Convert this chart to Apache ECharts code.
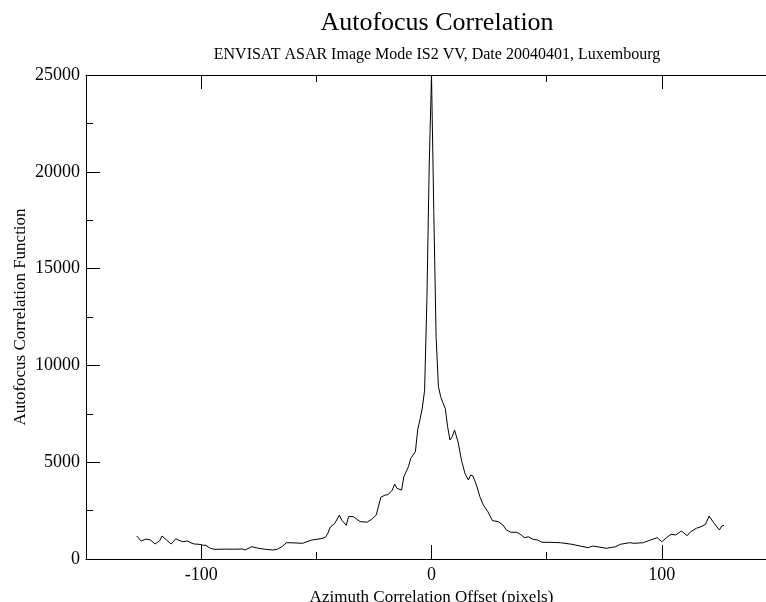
<!DOCTYPE html>
<html>
<head>
<meta charset="utf-8">
<script src="https://cdn.jsdelivr.net/npm/echarts@6/dist/echarts.min.js"></script>
<style>
  html, body { margin: 0; padding: 0; background: #fff; }
  #chart { width: 766px; height: 602px; }
</style>
</head>
<body>
<div id="chart"></div>
<script>
// 方位向偏移 (pixels)
const offsets = [
  -128, -126, -124, -122, -120, -118, -117, -115, -113, -111, -110, -108, -106, -104, -103, -101,
  -99, -98, -96, -94, -90, -86, -82, -81, -78, -75, -72, -69, -67, -65, -63, -61,
  -56, -52, -48, -46, -45, -44, -42, -40, -39, -37, -36, -34, -31, -28, -26, -24,
  -22, -20, -19, -17, -16, -15, -13, -12, -10, -9, -7, -6, -5, -4, -3, -2, -1, 0,
  1, 2, 3, 4, 5, 6, 7, 8, 9, 10, 11.5, 13, 14.5, 16, 17, 18, 19.5, 21, 22.5, 24.5,
  26.5, 29, 31, 32.5, 34.5, 37, 38.5, 40.5, 42, 44, 46, 48, 51, 56, 61, 68, 70, 76,
  80, 82, 86, 88, 92, 95, 98, 100, 102, 104, 106, 108.5, 111, 112.5, 115, 117, 119,
  120.5, 122.5, 125, 126, 127
];
// 自聚焦相关函数值
const correlation = [
  1190, 930, 1030, 980, 775, 945, 1190, 980, 775, 1050, 980, 895, 930, 810, 775, 760,
  710, 710, 550, 500, 510, 505, 515, 465, 635, 550, 500, 465, 500, 635, 840, 840,
  810, 980, 1050, 1120, 1330, 1640, 1840, 2270, 2010, 1740, 2190, 2190, 1930, 1900, 2050, 2270,
  3190, 3310, 3310, 3560, 3870, 3650, 3560, 4250, 4770, 5200, 5540, 6660, 7200, 7800, 8700, 13400, 20300, 25000,
  17900, 11500, 8900, 8380, 8050, 7770, 6830, 6150, 6320, 6660, 6060, 5110, 4430, 4080, 4340, 4290, 3820, 3220, 2790, 2440,
  1980, 1930, 1760, 1500, 1380, 1380, 1280, 1100, 1150, 1020, 980, 863, 863, 842, 759, 584, 671, 553,
  635, 759, 842, 811, 842, 981, 1100, 894, 1100, 1276, 1240, 1446, 1203, 1410, 1586, 1668, 1792,
  2221, 1875, 1498, 1704, 1741
];
const xMajorTicks = [-100, 0, 100];
const xMinorTicks = [-150, -50, 50, 150];

const serif = "Liberation Serif";
const chart = echarts.init(document.getElementById("chart"));

const xAxisBase = (extra) => Object.assign({
  type: "value",
  min: -150,
  max: 150,
  splitLine: { show: false },
  axisLine: { show: true, onZero: false, lineStyle: { color: "#000", width: 1 } },
  axisLabel: { show: false },
}, extra);

const option = {
  backgroundColor: "#fff",
  animation: false,
  title: [
    {
      text: "Autofocus Correlation",
      left: 432, top: 5, textAlign: "center",
      textStyle: { fontFamily: serif, fontSize: 26, fontWeight: "normal", color: "#000" },
    },
    {
      text: "ENVISAT ASAR Image Mode IS2 VV, Date 20040401, Luxembourg",
      left: 432, top: 42, textAlign: "center",
      textStyle: { fontFamily: serif, fontSize: 16, fontWeight: "normal", color: "#000" },
    },
  ],
  grid: {
    left: 86, top: 75, right: -11, bottom: 43,
    containLabel: false,
    outerBoundsMode: "none",
  },
  xAxis: [
    // 底部主刻度 + 标签
    xAxisBase({
      position: "bottom",
      name: "Azimuth Correlation Offset (pixels)",
      nameLocation: "middle",
      nameGap: 28,
      nameTextStyle: { fontFamily: serif, fontSize: 17, color: "#000" },
      axisTick: { show: true, inside: true, length: 14, customValues: xMajorTicks, lineStyle: { color: "#000" } },
      axisLabel: {
        show: true, customValues: xMajorTicks, margin: 7,
        fontFamily: serif, fontSize: 18, color: "#000",
        formatter: (v) => String(v),
      },
    }),
    // 底部次刻度
    xAxisBase({
      position: "bottom",
      axisLine: { show: false },
      axisTick: { show: true, inside: true, length: 7, customValues: xMinorTicks, lineStyle: { color: "#000" } },
    }),
    // 顶部刻度
    xAxisBase({
      position: "top",
      axisTick: { show: true, inside: true, length: 14, customValues: xMajorTicks, lineStyle: { color: "#000" } },
    }),
    xAxisBase({
      position: "top",
      axisLine: { show: false },
      axisTick: { show: true, inside: true, length: 7, customValues: xMinorTicks, lineStyle: { color: "#000" } },
    }),
  ],
  yAxis: [
    {
      type: "value",
      min: 0,
      max: 25000,
      interval: 5000,
      position: "left",
      name: "Autofocus Correlation Function",
      nameLocation: "middle",
      nameGap: 57,
      nameMoveOverlap: false,
      nameTextStyle: { fontFamily: serif, fontSize: 17, color: "#000" },
      splitLine: { show: false },
      axisLine: { show: true, onZero: false, lineStyle: { color: "#000", width: 1 } },
      axisTick: { show: true, inside: true, length: 14, lineStyle: { color: "#000" } },
      minorTick: { show: true, splitNumber: 2, length: 7, lineStyle: { color: "#000" } },
      axisLabel: { margin: 6, fontFamily: serif, fontSize: 18, color: "#000", formatter: (v) => String(v) },
    },
  ],
  series: [
    {
      type: "line",
      xAxisIndex: 0,
      yAxisIndex: 0,
      data: offsets.map((x, i) => [x, correlation[i]]),
      showSymbol: false,
      symbol: "none",
      clip: true,
      lineStyle: { color: "#000", width: 1 },
    },
  ],
};

chart.setOption(option);
</script>
</body>
</html>
